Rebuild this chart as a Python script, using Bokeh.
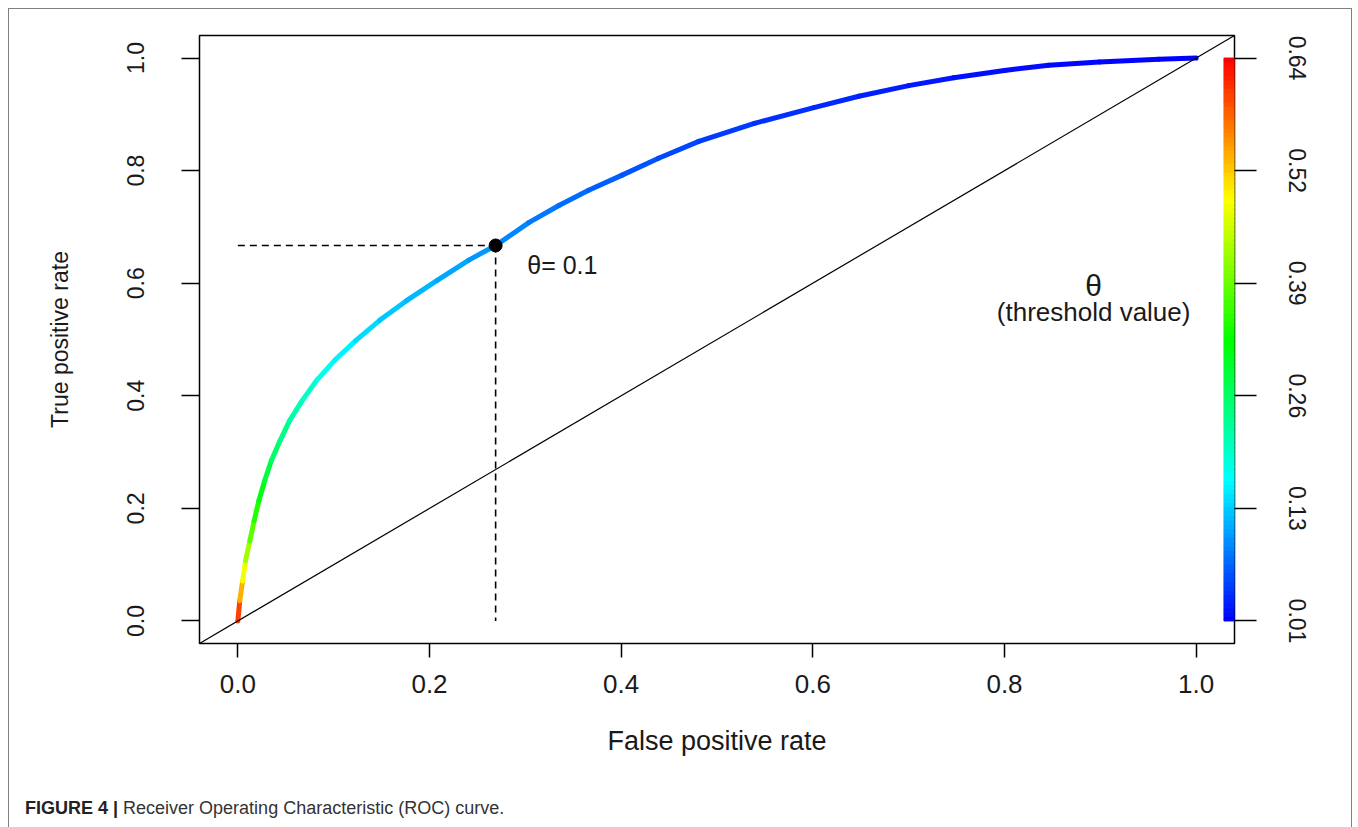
import colorsys
import numpy as np
from bokeh.plotting import figure
from bokeh.layouts import column
from bokeh.models import (Range1d, LinearAxis, FixedTicker, ColumnDataSource,
                          LinearColorMapper, Label, Slope, Div)
from bokeh.embed import file_html
from bokeh.resources import INLINE

# ---------------- data ----------------
fpr = [0.000, 0.002, 0.005, 0.008, 0.0125, 0.017, 0.022, 0.028, 0.035, 0.044,
       0.054, 0.067, 0.082, 0.101, 0.123, 0.148, 0.176, 0.208, 0.241, 0.269,
       0.304, 0.335, 0.366, 0.401, 0.439, 0.481, 0.539, 0.601, 0.648, 0.700,
       0.747, 0.800, 0.846, 0.899, 0.961, 1.000]
tpr = [0.000, 0.036, 0.071, 0.107, 0.142, 0.178, 0.214, 0.249, 0.285, 0.320,
       0.356, 0.391, 0.427, 0.463, 0.498, 0.534, 0.569, 0.605, 0.641, 0.667,
       0.708, 0.738, 0.765, 0.792, 0.822, 0.852, 0.884, 0.912, 0.932, 0.951,
       0.965, 0.978, 0.987, 0.993, 0.998, 1.000]
thr = [0.64, 0.56, 0.50, 0.45, 0.40, 0.36, 0.33, 0.30, 0.27, 0.25,
       0.23, 0.21, 0.19, 0.17, 0.155, 0.14, 0.13, 0.12, 0.11, 0.10,
       0.09, 0.08, 0.074, 0.067, 0.06, 0.053, 0.045, 0.038, 0.033, 0.028,
       0.024, 0.02, 0.017, 0.014, 0.012, 0.01]

cut_fpr, cut_tpr, cut_theta = 0.269, 0.667, 0.1

x_ticks = [0.0, 0.2, 0.4, 0.6, 0.8, 1.0]
x_tick_labels = ["0.0", "0.2", "0.4", "0.6", "0.8", "1.0"]
y_ticks = [0.0, 0.2, 0.4, 0.6, 0.8, 1.0]
y_tick_labels = ["0.0", "0.2", "0.4", "0.6", "0.8", "1.0"]
thr_min, thr_max = 0.01, 0.64
cbar_ticks = [0.01, 0.136, 0.262, 0.388, 0.514, 0.64]
cbar_labels = ["0.01", "0.13", "0.26", "0.39", "0.52", "0.64"]

x_title = "False positive rate"
y_title = "True positive rate"
caption_bold = "FIGURE 4 |"
caption_text = "Receiver Operating Characteristic (ROC) curve."

# ---------------- styling ----------------
FONT = "Liberation Sans"
TXT = "#1a1a1a"

# rainbow palette (blue -> red), like R's rainbow(start=0, end=4/6) reversed
palette = []
for i in range(256):
    h = (1 - i / 255) * 4 / 6
    r, g, b = colorsys.hsv_to_rgb(h, 1, 1)
    palette.append("#%02x%02x%02x" % (int(r * 255), int(g * 255), int(b * 255)))
mapper = LinearColorMapper(palette=palette, low=thr_min, high=thr_max)

p = figure(width=1342, height=780, output_backend="svg", toolbar_location=None,
           x_range=Range1d(-0.04, 1.04), y_range=Range1d(-0.04, 1.04),
           min_border_left=190, min_border_right=117, min_border_top=26,
           min_border_bottom=146, background_fill_color="white",
           border_fill_color="white")
p.xgrid.visible = False
p.ygrid.visible = False
p.outline_line_color = "black"
p.outline_line_width = 1.5
p.outline_line_alpha = 1.0

span = thr_max - thr_min
p.extra_y_ranges = {"thr": Range1d(thr_min - 0.04 * span, thr_max + 0.04 * span)}

xa = p.xaxis[0]
xa.ticker = FixedTicker(ticks=x_ticks)
xa.major_label_overrides = {t: l for t, l in zip(x_ticks, x_tick_labels)}
ya = p.yaxis[0]
ya.ticker = FixedTicker(ticks=y_ticks)
ya.major_label_overrides = {t: l for t, l in zip(y_ticks, y_tick_labels)}
ya.major_label_orientation = "vertical"

ra = LinearAxis(y_range_name="thr", ticker=FixedTicker(ticks=cbar_ticks))
ra.major_label_overrides = {t: l for t, l in zip(cbar_ticks, cbar_labels)}
ra.major_label_orientation = "vertical"
p.add_layout(ra, "right")

for ax in (xa, ya, ra):
    ax.axis_line_color = None
    ax.minor_tick_line_color = None
    ax.major_tick_in = 0
    ax.major_tick_line_color = "black"
    ax.major_tick_line_width = 1.5
    ax.major_label_text_font = FONT
    ax.major_label_text_color = TXT
    ax.axis_label_text_font = FONT
    ax.axis_label_text_font_style = "normal"
    ax.axis_label_text_color = TXT

xa.major_tick_out = 14
xa.major_label_standoff = 17
xa.major_label_text_font_size = "26px"
xa.axis_label = x_title
xa.axis_label_text_font_size = "27px"
xa.axis_label_standoff = 30

ya.major_tick_out = 18
ya.major_label_standoff = 37
ya.major_label_text_font_size = "23px"
ya.axis_label = y_title
ya.axis_label_text_font_size = "23px"
ya.axis_label_standoff = 52

ra.major_tick_out = 22
ra.major_label_standoff = 32
ra.major_label_text_font_size = "23px"

# diagonal reference line
p.add_layout(Slope(gradient=1, y_intercept=0, line_color="black", line_width=1.2))

# ROC curve coloured by threshold
seg = ColumnDataSource(dict(
    x0=fpr[:-1], y0=tpr[:-1], x1=fpr[1:], y1=tpr[1:],
    t=[(a + b) / 2 for a, b in zip(thr[:-1], thr[1:])]))
p.segment("x0", "y0", "x1", "y1", source=seg, line_width=5, line_cap="round",
          line_color={"field": "t", "transform": mapper})

# colour bar inside the frame (threshold scale)
levels = np.linspace(thr_min, thr_max, 129)
cb = ColumnDataSource(dict(bottom=levels[:-1], top=levels[1:],
                           t=(levels[:-1] + levels[1:]) / 2))
p.quad(left=1.029, right=1.04, bottom="bottom", top="top", source=cb,
       y_range_name="thr", line_width=1,
       line_color={"field": "t", "transform": mapper},
       fill_color={"field": "t", "transform": mapper})

# cut-off point and dashed guides
p.line([0, cut_fpr], [cut_tpr, cut_tpr], line_color="black", line_width=1.6,
       line_dash="7 5")
p.line([cut_fpr, cut_fpr], [cut_tpr, 0], line_color="black", line_width=1.6,
       line_dash="7 5")
p.scatter([cut_fpr], [cut_tpr], size=13, color="black")

p.add_layout(Label(x=cut_fpr + 0.033, y=cut_tpr - 0.035, text="θ= %g" % cut_theta,
                   text_font=FONT, text_font_size="25px", text_color=TXT,
                   text_baseline="middle"))
p.add_layout(Label(x=0.893, y=0.596, text="θ", text_font=FONT,
                   text_font_size="30px", text_color=TXT, text_align="center",
                   text_baseline="middle"))
p.add_layout(Label(x=0.893, y=0.548, text="(threshold value)", text_font=FONT,
                   text_font_size="26px", text_color=TXT, text_align="center",
                   text_baseline="middle"))

caption = Div(
    text='<span style="font-weight:bold;color:#222">%s</span> %s' % (caption_bold, caption_text),
    width=1300, height=70,
    styles={"font-family": FONT, "font-size": "18px", "color": "#333333",
            "padding-left": "11px", "padding-top": "2px"})

layout = column(p, caption, margin=(8, 0, 0, 8),
                styles={"border": "1.5px solid #808080"})

open("out.html", "w").write(file_html(layout, INLINE))
